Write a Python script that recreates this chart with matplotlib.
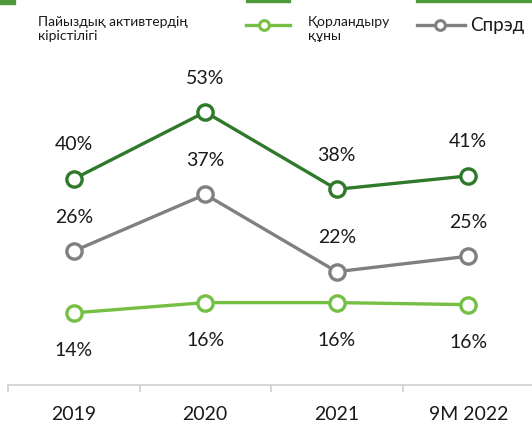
import matplotlib
matplotlib.use("Agg")
import matplotlib.pyplot as plt
from matplotlib.lines import Line2D
from matplotlib.patches import Rectangle

plt.rcParams['font.family'] = ['Lato', 'Noto Sans', 'DejaVu Sans']

years = ["2019", "2020", "2021", "9M 2022"]
yield_assets = [40, 53, 38, 40.6]
spread = [26, 37, 22, 25]
funding_cost = [14, 16, 16, 15.6]

dark_green = "#2E7A2A"
light_green = "#76BF45"
grey = "#808080"

W, H = 532, 425
fig = plt.figure(figsize=(W / 100, H / 100), dpi=100)
# axes: left 8px, bottom at 385px from top, top at 60px
ax = fig.add_axes([8 / W, (H - 385) / H, 526 / W, 325 / H])
ax.set_xlim(-0.5, 3.5)
ax.set_ylim(0, 63.1)

x = range(len(years))
series = [
    (yield_assets, dark_green, 1),
    (spread, grey, 1),
    (funding_cost, light_green, -1),
]
for vals, col, side in series:
    ax.plot(x, vals, color=col, lw=2.4, marker="o", ms=11, mfc="white",
            mec=col, mew=2.4, zorder=3, clip_on=False)
    for i, v in enumerate(vals):
        off = 34 if side > 0 else -38
        ax.annotate(f"{round(v)}%", (i, v), xytext=(0, off * 0.72),
                    textcoords="offset points", ha="center", va="center",
                    fontsize=14, color="#1a1a1a")

for s in ["top", "right", "left"]:
    ax.spines[s].set_visible(False)
ax.spines["bottom"].set_color("#d0d0d0")
ax.spines["bottom"].set_linewidth(1.2)
ax.set_yticks([])
ax.set_xticks([-0.5, 0.5, 1.5, 2.5, 3.5])
ax.set_xticklabels([])
ax.tick_params(axis="x", length=5, width=1.2, color="#d0d0d0", direction="out")
for i, y in enumerate(years):
    ax.text(i, -30 / 325 * 63.1 * 0.97, y, ha="center", va="center",
            fontsize=14, color="#1a1a1a")


def fx(px):
    return px / W


def fy(py):
    return 1 - py / H


# cropped header pieces at the very top
for x0, x1, h in [(0, 15, 4), (246, 290, 2), (416, 532, 2)]:
    fig.patches.append(Rectangle((fx(x0), fy(h)), (x1 - x0) / W, h / H,
                                 transform=fig.transFigure, color="#4E9A3A"))

# legend
fig.text(fx(38), fy(29), "Пайыздық активтердің\nкірістілігі", fontsize=10,
         va="center", ha="left", color="#1a1a1a", linespacing=1.15)
fig.add_artist(Line2D([fx(246), fx(290)], [fy(25), fy(25)], color=light_green,
                      lw=2.4))
fig.add_artist(Line2D([fx(264)], [fy(25)], color=light_green, lw=0, marker="o",
                      ms=7, mfc="white", mec=light_green, mew=2.2))
fig.text(fx(308), fy(29), "Қорландыру\nқұны", fontsize=10, va="center",
         ha="left", color="#1a1a1a", linespacing=1.15)
fig.add_artist(Line2D([fx(417), fx(465)], [fy(25), fy(25)], color=grey, lw=2.4))
fig.add_artist(Line2D([fx(440)], [fy(25)], color=grey, lw=0, marker="o",
                      ms=7, mfc="white", mec=grey, mew=2.2))
fig.text(fx(470), fy(25), "Спрэд", fontsize=13.5, va="center", ha="left",
         color="#1a1a1a")

fig.savefig("out.png", dpi=100)
